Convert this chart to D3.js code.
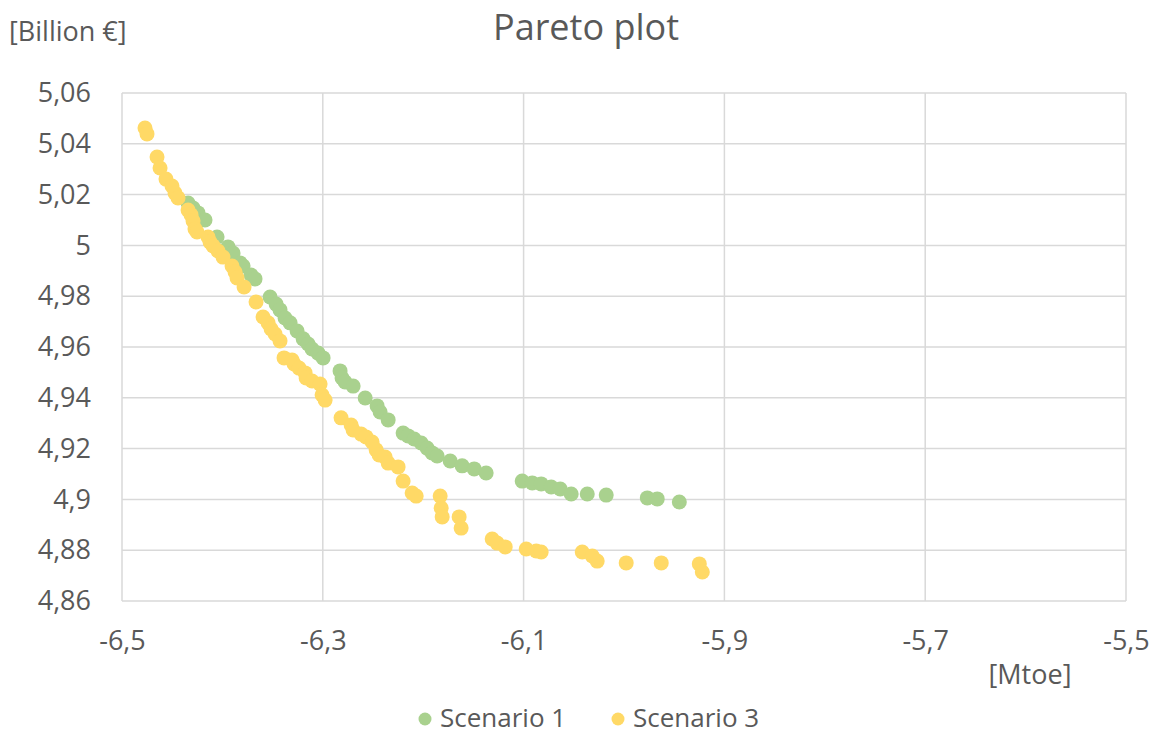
<!DOCTYPE html>
<html>
<head>
<meta charset="utf-8">
<script src="https://cdn.jsdelivr.net/npm/d3@7"></script>
<style>
  html, body { margin: 0; padding: 0; background: #fff; }
  svg { display: block; }
  text { font-family: "Open Sans", "Noto Sans", sans-serif; fill: #595959; }
</style>
</head>
<body>
<svg id="chart" width="1154" height="735"></svg>
<script>
// Scenario 1: [energy (Mtoe), cost (Billion €)]
const scenario1 = [
  [-6.4342, 5.0167], [-6.4292, 5.0147], [-6.4243, 5.0128], [-6.4173, 5.0100],
  [-6.4053, 5.0033], [-6.3944, 4.9994], [-6.3894, 4.9970], [-6.3824, 4.9931],
  [-6.3794, 4.9919], [-6.3714, 4.9883], [-6.3675, 4.9868], [-6.3525, 4.9797],
  [-6.3465, 4.9769], [-6.3426, 4.9746], [-6.3376, 4.9714], [-6.3326, 4.9695],
  [-6.3256, 4.9663], [-6.3196, 4.9632], [-6.3146, 4.9612], [-6.3107, 4.9592],
  [-6.3047, 4.9576], [-6.2997, 4.9557], [-6.2828, 4.9506], [-6.2808, 4.9478],
  [-6.2778, 4.9462], [-6.2698, 4.9446], [-6.2578, 4.9399], [-6.2459, 4.9368],
  [-6.2429, 4.9344], [-6.2349, 4.9313], [-6.2200, 4.9261], [-6.2150, 4.9250],
  [-6.2090, 4.9238], [-6.2020, 4.9222], [-6.1961, 4.9202], [-6.1911, 4.9183],
  [-6.1861, 4.9171], [-6.1731, 4.9151], [-6.1612, 4.9132], [-6.1492, 4.9120],
  [-6.1373, 4.9104], [-6.1014, 4.9072], [-6.0914, 4.9065], [-6.0825, 4.9061],
  [-6.0725, 4.9049], [-6.0635, 4.9041], [-6.0526, 4.9021], [-6.0366, 4.9021],
  [-6.0177, 4.9017], [-5.9768, 4.9006], [-5.9669, 4.9002], [-5.9449, 4.8990]
];

// Scenario 3: [energy (Mtoe), cost (Billion €)]
const scenario3 = [
  [-6.4771, 5.0462], [-6.4751, 5.0439], [-6.4651, 5.0348], [-6.4621, 5.0305],
  [-6.4562, 5.0261], [-6.4502, 5.0234], [-6.4472, 5.0206], [-6.4442, 5.0187],
  [-6.4342, 5.0139], [-6.4312, 5.0120], [-6.4292, 5.0096], [-6.4273, 5.0065],
  [-6.4253, 5.0053], [-6.4143, 5.0033], [-6.4123, 5.0013], [-6.4093, 4.9998],
  [-6.4043, 4.9978], [-6.3994, 4.9954], [-6.3904, 4.9919], [-6.3874, 4.9895],
  [-6.3854, 4.9872], [-6.3784, 4.9836], [-6.3665, 4.9777], [-6.3595, 4.9718],
  [-6.3545, 4.9695], [-6.3515, 4.9671], [-6.3475, 4.9651], [-6.3426, 4.9624],
  [-6.3386, 4.9557], [-6.3306, 4.9549], [-6.3286, 4.9533], [-6.3236, 4.9517],
  [-6.3176, 4.9498], [-6.3166, 4.9478], [-6.3107, 4.9466], [-6.3027, 4.9454],
  [-6.3007, 4.9411], [-6.2977, 4.9391], [-6.2818, 4.9321], [-6.2718, 4.9293],
  [-6.2698, 4.9273], [-6.2618, 4.9257], [-6.2569, 4.9246], [-6.2509, 4.9226],
  [-6.2469, 4.9195], [-6.2439, 4.9175], [-6.2379, 4.9167], [-6.2349, 4.9143],
  [-6.2250, 4.9128], [-6.2200, 4.9072], [-6.2110, 4.9025], [-6.2070, 4.9013],
  [-6.1831, 4.9013], [-6.1821, 4.8966], [-6.1811, 4.8931], [-6.1642, 4.8931],
  [-6.1622, 4.8887], [-6.1313, 4.8844], [-6.1263, 4.8828], [-6.1183, 4.8813],
  [-6.0974, 4.8805], [-6.0874, 4.8797], [-6.0825, 4.8793], [-6.0416, 4.8793],
  [-6.0316, 4.8777], [-6.0267, 4.8757], [-5.9978, 4.8750], [-5.9629, 4.8750],
  [-5.9250, 4.8746], [-5.9220, 4.8714]
];

const xTicks = [-6.5, -6.3, -6.1, -5.9, -5.7, -5.5];
const yTicks = [4.86, 4.88, 4.90, 4.92, 4.94, 4.96, 4.98, 5.00, 5.02, 5.04, 5.06];

const seriesNames = ["Scenario 1", "Scenario 3"];
const seriesColors = ["#a9d18e", "#ffd966"];

const svg = d3.select("#chart");
const plot = { left: 122, right: 1126, top: 93, bottom: 601 };

const x = d3.scaleLinear().domain([-6.5, -5.5]).range([plot.left, plot.right]);
const y = d3.scaleLinear().domain([4.86, 5.06]).range([plot.bottom, plot.top]);

// Decimal comma, trailing zeros dropped (5,00 -> 5; 4,90 -> 4,9)
const fmt = v => String(+v.toFixed(2)).replace(".", ",");

// Gridlines
svg.append("g")
  .selectAll("line")
  .data(yTicks)
  .join("line")
  .attr("x1", plot.left).attr("x2", plot.right)
  .attr("y1", d => y(d)).attr("y2", d => y(d))
  .attr("stroke", "#d9d9d9").attr("stroke-width", 1.5);

svg.append("g")
  .selectAll("line")
  .data(xTicks)
  .join("line")
  .attr("x1", d => x(d)).attr("x2", d => x(d))
  .attr("y1", plot.top).attr("y2", plot.bottom)
  .attr("stroke", "#d9d9d9").attr("stroke-width", 1.5);

// Axes (labels only, lines drawn as gridlines)
const yAxis = d3.axisLeft(y).tickValues(yTicks).tickFormat(fmt).tickSize(0).tickPadding(31);
const gy = svg.append("g").attr("transform", `translate(${plot.left},0)`).call(yAxis);
gy.select(".domain").remove();
gy.selectAll("text").attr("font-size", 27).style("font-family", null).attr("fill", "#595959");

const xAxis = d3.axisBottom(x).tickValues(xTicks).tickFormat(fmt).tickSize(0).tickPadding(30);
const gx = svg.append("g").attr("transform", `translate(0,${plot.bottom})`).call(xAxis);
gx.select(".domain").remove();
gx.selectAll("text").attr("font-size", 27).style("font-family", null).attr("fill", "#595959");

// Points
const series = [scenario1, scenario3];
series.forEach((pts, i) => {
  svg.append("g")
    .selectAll("circle")
    .data(pts)
    .join("circle")
    .attr("cx", d => x(d[0]))
    .attr("cy", d => y(d[1]))
    .attr("r", 7.5)
    .attr("fill", seriesColors[i]);
});

// Title and axis unit labels
svg.append("text")
  .attr("x", 586).attr("y", 40)
  .attr("text-anchor", "middle")
  .attr("font-size", 36)
  .text("Pareto plot");

svg.append("text")
  .attr("x", 9).attr("y", 41)
  .attr("font-size", 27)
  .text("[Billion €]");

svg.append("text")
  .attr("x", 1030).attr("y", 684)
  .attr("text-anchor", "middle")
  .attr("font-size", 27)
  .text("[Mtoe]");

// Legend
const legend = svg.append("g");
const legendX = [425, 618];
seriesNames.forEach((name, i) => {
  legend.append("circle")
    .attr("cx", legendX[i]).attr("cy", 719)
    .attr("r", 6.5)
    .attr("fill", seriesColors[i]);
  legend.append("text")
    .attr("x", legendX[i] + 15).attr("y", 727)
    .attr("font-size", 26)
    .text(name);
});
</script>
</body>
</html>
